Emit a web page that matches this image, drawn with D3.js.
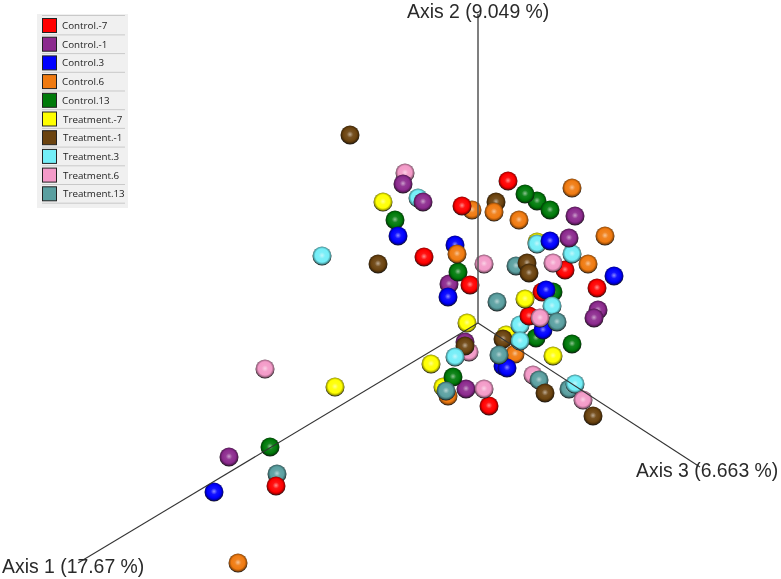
<!DOCTYPE html>
<html>
<head>
<meta charset="utf-8">
<script src="https://d3js.org/d3.v7.min.js"></script>
<style>
  html, body { margin: 0; padding: 0; background: #fff; overflow: hidden; }
  svg { display: block; filter: blur(0.35px); }
</style>
</head>
<body>
<div id="chart"></div>
<script>
// values: [axis plane across, axis plane up, depth order]
const control_m7 = [[30,142,0],[-16,117,1],[-54,66,0],[-8,38,1],[87,53,-1],[119,35,0],[51,7,0],[64,31,-2],[11,-83,1],[-202,-163,1]];
const control_m1 = [[-75,139,1],[-55,121,1],[97,107,0],[91,85,1],[-29,39,-1],[120,13,-1],[116,5,0],[-13,-19,-2],[-12,-66,0],[-249,-134,0]];
const control_3 = [[-80,87,1],[-23,78,-1],[-30,26,1],[72,82,2],[136,47,0],[68,33,1],[65,-7,-1],[29,-45,1],[25,-43,-1],[-264,-169,0]];
const control_6 = [[94,135,0],[-6,113,0],[16,111,1],[41,103,0],[127,87,0],[-21,69,1],[110,59,0],[37,-31,-1],[-30,-73,-2],[-240,-240,0]];
const control_13 = [[47,129,1],[59,122,-1],[72,113,1],[-83,103,0],[-20,51,0],[75,31,-1],[58,-15,-2],[94,-21,0],[-25,-54,0],[-208,-124,0]];
const treatment_m7 = [[-95,121,0],[59,81,-1],[47,24,0],[-11,0,0],[-47,-41,0],[75,-33,0],[28,-12,-2],[-35,-64,-1],[-143,-64,0]];
const treatment_m1 = [[-128,188,0],[18,121,-1],[-100,59,0],[49,60,0],[51,50,1],[-13,-23,1],[25,-16,0],[67,-70,1],[115,-93,-1]];
const treatment_3 = [[-60,125,0],[59,79,0],[94,69,0],[74,17,2],[-23,-34,2],[42,-2,-1],[42,-18,1],[97,-61,1],[-156,67,0]];
const treatment_6 = [[-73,150,0],[6,59,0],[75,60,1],[62,5,3],[-9,-29,-1],[6,-66,1],[55,-52,-1],[105,-77,2],[-213,-46,0]];
const treatment_13 = [[38,57,-1],[19,21,0],[79,1,2],[21,-32,1],[-32,-68,1],[61,-57,0],[91,-66,0],[-201,-151,0]];

const groupNames = ["Control.-7", "Control.-1", "Control.3", "Control.6", "Control.13",
  "Treatment.-7", "Treatment.-1", "Treatment.3", "Treatment.6", "Treatment.13"];
const groupValues = [control_m7, control_m1, control_3, control_6, control_13,
  treatment_m7, treatment_m1, treatment_3, treatment_6, treatment_13];
const groupColors = ["#ff0000", "#8c2a8e", "#0000ff", "#f07a10", "#007a0a",
  "#ffff00", "#6b430f", "#73eef7", "#f39ac8", "#5a9fa0"];

const axisNames = ["Axis 1 (17.67 %)", "Axis 2 (9.049 %)", "Axis 3 (6.663 %)"];
const axisEnds = [[-400, -240], [0, 309], [222, -144]];

const width = 781;
const height = 579;

const x = d3.scaleLinear([-478, 303], [0, width]);
const y = d3.scaleLinear([323, -256], [0, height]);

const svg = d3.select("#chart").append("svg")
  .attr("width", width)
  .attr("height", height);

const defs = svg.append("defs");
const gradId = i => `ball-${i}`;

groupColors.forEach((color, i) => {
  const g = defs.append("radialGradient")
    .attr("id", gradId(i))
    .attr("cx", "50%").attr("cy", "47%").attr("r", "52%");
  const c = d3.color(color);
  g.append("stop").attr("offset", "0%").attr("stop-color", d3.interpolateRgb(color, "#fff")(0.55));
  g.append("stop").attr("offset", "32%").attr("stop-color", d3.interpolateRgb(color, "#fff")(0.08));
  g.append("stop").attr("offset", "68%").attr("stop-color", color);
  g.append("stop").attr("offset", "88%").attr("stop-color", c.darker(1.3));
  g.append("stop").attr("offset", "100%").attr("stop-color", "#151515");
});

// balls first, sorted back to front
const balls = groupValues
  .flatMap((values, i) => values.map(d => ({ u: d[0], v: d[1], z: d[2], i })));

svg.append("g")
  .selectAll("circle")
  .data(d3.sort(balls, d => d.z))
  .join("circle")
  .attr("cx", d => x(d.u))
  .attr("cy", d => y(d.v))
  .attr("r", 9.5)
  .attr("fill", d => `url(#${gradId(d.i)})`);

// axes
svg.append("g")
  .selectAll("line")
  .data(axisEnds)
  .join("line")
  .attr("x1", x(0))
  .attr("y1", y(0))
  .attr("x2", d => x(d[0]))
  .attr("y2", d => y(d[1]))
  .attr("stroke", (d, i) => i === 1 ? "#555" : "#333")
  .attr("stroke-width", (d, i) => i === 1 ? 1.5 : 1.1);

const axisLabelPos = [[2, 573], [407, 18], [636, 477]];

svg.append("g")
  .selectAll("text")
  .data(axisNames)
  .join("text")
  .attr("x", (d, i) => axisLabelPos[i][0])
  .attr("y", (d, i) => axisLabelPos[i][1])
  .attr("font-family", "Liberation Sans, Arial, sans-serif")
  .attr("font-size", 19.4)
  .attr("fill", "#2a2a2a")
  .text(d => d);

// legend
const legend = svg.append("g").attr("transform", "translate(37,14)");
const rowH = 18.7;

legend.append("rect")
  .attr("width", 91)
  .attr("height", 194)
  .attr("fill", "#f0f0f0");

const row = legend.selectAll("g")
  .data(groupNames)
  .join("g")
  .attr("transform", (d, i) => `translate(0,${4 + i * rowH})`);

row.append("line")
  .attr("x1", 5).attr("x2", 88)
  .attr("y1", 16.9).attr("y2", 16.9)
  .attr("stroke", "#c9c9c9");

row.append("rect")
  .attr("x", 5.5).attr("y", 0.5)
  .attr("width", 14).attr("height", 14)
  .attr("fill", (d, i) => groupColors[i])
  .attr("stroke", "#222");

row.append("text")
  .attr("x", (d, i) => i < 5 ? 25 : 26)
  .attr("y", 11)
  .attr("font-family", "Open Sans, sans-serif")
  .attr("font-size", 9.8)
  .attr("fill", "#222")
  .text(d => d);

legend.append("line")
  .attr("x1", 5).attr("x2", 88)
  .attr("y1", 1.5).attr("y2", 1.5)
  .attr("stroke", "#c9c9c9");
</script>
</body>
</html>
